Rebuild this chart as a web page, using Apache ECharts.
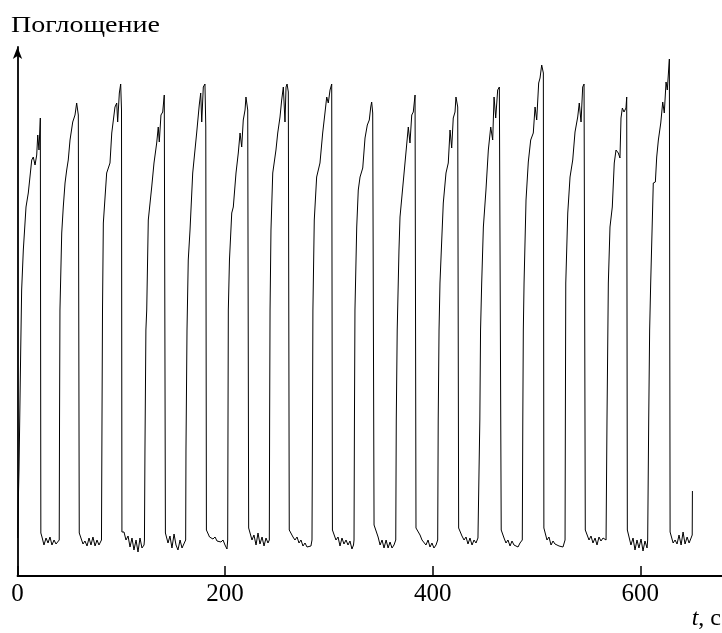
<!DOCTYPE html>
<html>
<head>
<meta charset="utf-8">
<script src="https://cdn.jsdelivr.net/npm/echarts@6/dist/echarts.min.js"></script>
<style>html,body{margin:0;padding:0;background:#fff}#c{width:722px;height:633px}</style>
</head>
<body>
<div id="c"></div>
<script>
// Ticks
const xTicks = [0, 200, 400, 600];
const yLabel = 'Поглощение';
// Trace: [t (s), absorbance (arb. units)] — one array per cycle
const c01 = [[0.3,3.8],[0.8,7.6],[1.45,10.6],[3.1,22.6],[4.0,28.6],[5.6,32.6],[8.2,36.9],[10.4,38.3],[12.0,38.3],[13.7,41.6],[15.2,41.9],[16.9,41.1],[18.5,42.1],[19.5,44.1],[20.7,42.6],[22.0,45.8],[22.5,4.3],[23.6,3.9],[25.5,3.1],[27.5,3.8],[29.4,3.3],[31.3,3.9],[33.2,3.1],[35.2,3.6],[37.1,3.2],[39.0,3.0]];
const c02 = [[40.2,3.6],[40.5,15.6],[40.9,26.6],[42.6,34.3],[44.1,36.9],[45.8,39.3],[47.4,40.6],[48.9,41.6],[50.6,43.6],[53.2,45.4],[55.4,46.1],[57.0,47.3],[58.6,46.1],[59.5,4.3],[61.2,4.1],[63.1,3.2],[65.0,3.5],[67.0,3.0],[68.9,3.8],[70.8,3.1],[72.7,3.9],[74.7,3.0],[76.6,3.6],[78.5,3.1],[80.4,3.3]];
const c03 = [[80.9,3.6],[81.4,15.6],[81.9,26.6],[82.7,35.3],[85.9,40.3],[89.1,41.3],[90.8,44.3],[93.9,46.9],[95.6,47.3],[96.5,45.4],[98.1,48.3],[99.4,49.2],[100.2,46.6],[100.6,4.4],[102.6,4.4],[104.5,3.6],[106.5,4.0],[108.4,2.9],[110.3,3.8],[112.2,2.6],[114.2,3.6],[116.1,2.4],[118.0,3.8],[119.9,2.8],[121.9,3.1]];
const c04 = [[122.3,3.6],[122.8,12.6],[123.7,24.6],[124.5,26.6],[126.0,35.6],[129.3,38.9],[131.5,41.3],[134.1,43.3],[135.6,44.9],[136.6,43.4],[138.2,46.1],[139.9,46.4],[141.4,48.1],[142.5,4.3],[143.5,4.3],[145.0,3.3],[146.9,4.0],[148.8,2.8],[150.8,4.2],[152.7,3.1],[154.6,2.6],[156.6,3.6],[158.5,2.8],[160.4,3.0]];
const c05 = [[162.0,3.6],[162.3,12.6],[163.3,24.6],[164.5,31.6],[166.2,34.6],[168.8,40.3],[172.6,44.3],[175.1,47.1],[176.5,48.3],[177.5,45.4],[179.0,48.9],[180.6,49.2],[181.4,44.9],[182.0,4.6],[183.0,4.6],[185.0,3.9],[186.4,4.1],[188.3,3.7],[190.3,3.9],[192.2,3.5],[194.1,3.7],[196.0,3.4],[198.0,3.6],[199.9,3.1],[201.8,2.7]];
const c06 = [[202.5,3.6],[202.8,15.6],[203.1,26.6],[204.2,31.6],[206.4,36.3],[207.9,36.9],[210.5,40.3],[212.7,42.3],[214.4,44.3],[216.0,42.9],[217.5,45.6],[219.2,46.6],[220.1,47.9],[221.8,46.6],[222.7,4.8],[224.0,4.8],[225.9,3.6],[227.8,4.1],[229.8,3.1],[231.7,4.3],[233.6,3.2],[235.6,3.9],[237.5,3.0],[239.4,3.8],[241.3,3.3]];
const c07 = [[242.6,3.6],[242.9,15.6],[243.3,26.6],[244.2,34.6],[245.9,40.3],[249.0,42.6],[250.7,44.3],[252.9,45.9],[254.5,47.6],[256.1,48.9],[257.7,45.4],[258.7,48.9],[259.7,49.2],[260.9,48.4],[261.8,4.6],[263.5,4.6],[265.4,3.9],[267.3,3.6],[269.3,3.9],[271.2,3.3],[273.1,3.6],[275.0,3.0],[277.0,3.3],[278.9,2.9],[280.8,3.1],[282.7,3.0]];
const c08 = [[283.7,3.6],[284.2,15.6],[284.6,26.6],[285.9,35.6],[288.2,39.9],[291.4,41.3],[294.0,44.3],[296.2,46.3],[297.9,47.9],[299.4,47.3],[301.1,48.6],[302.7,49.2],[303.4,4.6],[304.9,4.6],[306.8,3.6],[308.8,3.9],[310.7,3.0],[312.6,3.8],[314.5,3.2],[316.5,3.6],[318.4,3.1],[320.3,3.5],[322.2,2.7],[323.7,3.1]];
const c09 = [[324.2,3.6],[324.6,15.6],[325.1,26.6],[326.8,34.9],[328.3,38.6],[330.0,39.9],[332.6,40.8],[334.8,43.8],[337.0,45.1],[338.9,45.6],[340.3,46.9],[341.2,47.4],[342.2,46.3],[343.5,5.1],[344.5,5.1],[347.4,3.9],[349.3,3.1],[351.2,3.6],[353.1,2.8],[355.1,3.6],[357.0,2.8],[358.9,3.4],[360.8,2.8],[362.7,3.1]];
const c10 = [[364.4,3.6],[364.9,15.6],[365.8,24.6],[367.5,32.6],[368.5,35.9],[373.3,41.3],[376.5,44.9],[378.1,43.3],[379.8,46.1],[381.3,46.4],[383.0,48.1],[383.9,4.8],[385.8,4.8],[387.8,4.1],[389.7,3.6],[391.6,3.8],[393.5,3.1],[395.5,3.6],[397.4,2.9],[399.3,3.3],[401.2,2.8],[403.2,3.1]];
const c11 = [[404.8,3.6],[405.3,15.6],[406.1,24.6],[407.0,29.3],[408.7,33.6],[410.2,37.3],[412.8,40.3],[415.0,41.3],[416.7,44.6],[418.3,42.8],[419.8,45.8],[421.5,46.4],[422.4,47.9],[424.1,46.9],[425.0,4.8],[426.3,4.8],[428.2,4.0],[430.2,3.6],[432.1,3.9],[434.0,3.2],[435.9,3.8],[437.9,3.1],[439.8,3.6],[441.7,3.3],[443.6,3.8]];
const c12 = [[444.9,3.6],[445.4,15.6],[446.1,24.6],[447.2,29.3],[448.8,34.9],[451.3,38.6],[453.6,42.6],[455.9,44.9],[457.8,43.6],[459.1,47.9],[460.7,45.8],[462.6,48.6],[464.2,48.9],[465.5,48.8],[466.0,4.6],[466.8,4.6],[468.7,3.8],[470.6,3.3],[472.5,3.6],[474.5,3.0],[476.4,3.5],[478.3,3.1],[480.2,3.3],[482.2,2.9],[484.1,3.3]];
const c13 = [[486.3,3.6],[486.8,15.6],[487.3,24.6],[488.0,29.3],[489.9,37.6],[492.1,41.4],[494.4,43.6],[496.9,44.3],[498.6,46.9],[500.2,45.6],[502.1,49.3],[503.4,49.8],[505.0,51.1],[506.6,50.3],[507.1,4.8],[508.2,4.8],[510.1,3.6],[512.0,3.9],[514.0,3.1],[515.9,3.5],[517.8,3.2],[519.7,3.3],[521.7,3.0],[523.6,3.1],[525.5,2.9]];
const c14 = [[527.5,3.6],[527.8,15.6],[528.2,29.3],[530.1,36.3],[532.3,39.9],[534.9,41.6],[537.1,44.4],[539.7,45.9],[541.2,47.3],[542.9,45.4],[544.5,48.9],[545.8,49.2],[547.0,4.6],[548.7,4.6],[550.6,3.6],[552.5,4.0],[554.4,3.3],[556.4,3.8],[558.3,3.1],[560.2,3.9],[562.1,3.5],[564.1,3.8],[566.0,3.9]];
const c15 = [[567.0,3.6],[567.9,15.6],[569.2,29.3],[570.8,34.9],[573.0,36.9],[574.9,41.3],[576.6,42.6],[578.8,42.3],[580.4,41.8],[581.4,45.8],[582.7,46.8],[584.3,46.4],[586.2,46.8],[586.9,47.9],[587.5,4.6],[589.1,4.6],[591.0,3.1],[593.0,3.8],[594.9,2.6],[596.8,3.6],[598.7,2.8],[600.7,3.7],[602.6,2.5],[604.5,3.5],[606.5,2.8]];
const c16 = [[607.1,3.6],[608.1,15.6],[609.0,24.6],[610.0,29.3],[612.5,39.3],[614.5,39.4],[615.8,41.9],[617.4,43.6],[619.7,45.3],[621.6,47.4],[623.1,46.3],[624.8,49.4],[626.0,48.6],[628.0,51.7],[628.7,4.4],[629.6,4.4],[631.6,3.3],[633.5,3.6],[635.4,3.2],[637.3,4.1],[639.3,3.1],[641.2,4.4],[643.1,3.2],[645.1,3.9],[647.0,3.3],[648.9,3.8],[650.0,4.1],[650.2,8.5]];

const trace = [].concat(c01,c02,c03,c04,c05,c06,c07,c08,c09,c10,c11,c12,c13,c14,c15,c16);

const serif = "'Liberation Serif', 'DejaVu Serif', serif";
const chart = echarts.init(document.getElementById('c'), null, {renderer: 'canvas'});
chart.setOption({
  animation: false,
  backgroundColor: '#fff',
  grid: {left: 17.5, right: 0, top: 47, bottom: 57, containLabel: false},
  xAxis: {
    type: 'value', min: 0, max: 678.7,
    axisLine: {show: true, lineStyle: {color: '#000', width: 1.8}},
    axisTick: {show: true, inside: true, length: 10, customValues: xTicks, lineStyle: {color: '#000', width: 1.5}},
    axisLabel: {show: true, customValues: xTicks, margin: 6, color: '#000', fontFamily: serif, fontSize: 25},
    splitLine: {show: false}
  },
  yAxis: {
    type: 'value', min: 0, max: 52.9,
    axisLine: {show: true, onZero: false, symbol: ['none', 'arrow'], symbolSize: [7, 12], lineStyle: {color: '#000', width: 1.8}},
    axisTick: {show: false}, axisLabel: {show: false}, splitLine: {show: false}
  },
  graphic: [
    {type: 'text', x: 11, y: 14, scaleX: 1.22, style: {text: yLabel, font: "23px " + serif, fill: '#000'}},
    {type: 'text', right: 1, top: 607, style: {
      text: '{i|t}{n|, с}', fill: '#000',
      rich: {i: {fontFamily: serif, fontSize: 24, fontStyle: 'italic', fill: '#000'}, n: {fontFamily: serif, fontSize: 24, fill: '#000'}}
    }}
  ],
  series: [{
    type: 'line', data: trace, showSymbol: false, symbol: 'none', smooth: false, sampling: null,
    lineStyle: {color: '#000', width: 1}, emphasis: {disabled: true}
  }]
});
</script>
</body>
</html>
